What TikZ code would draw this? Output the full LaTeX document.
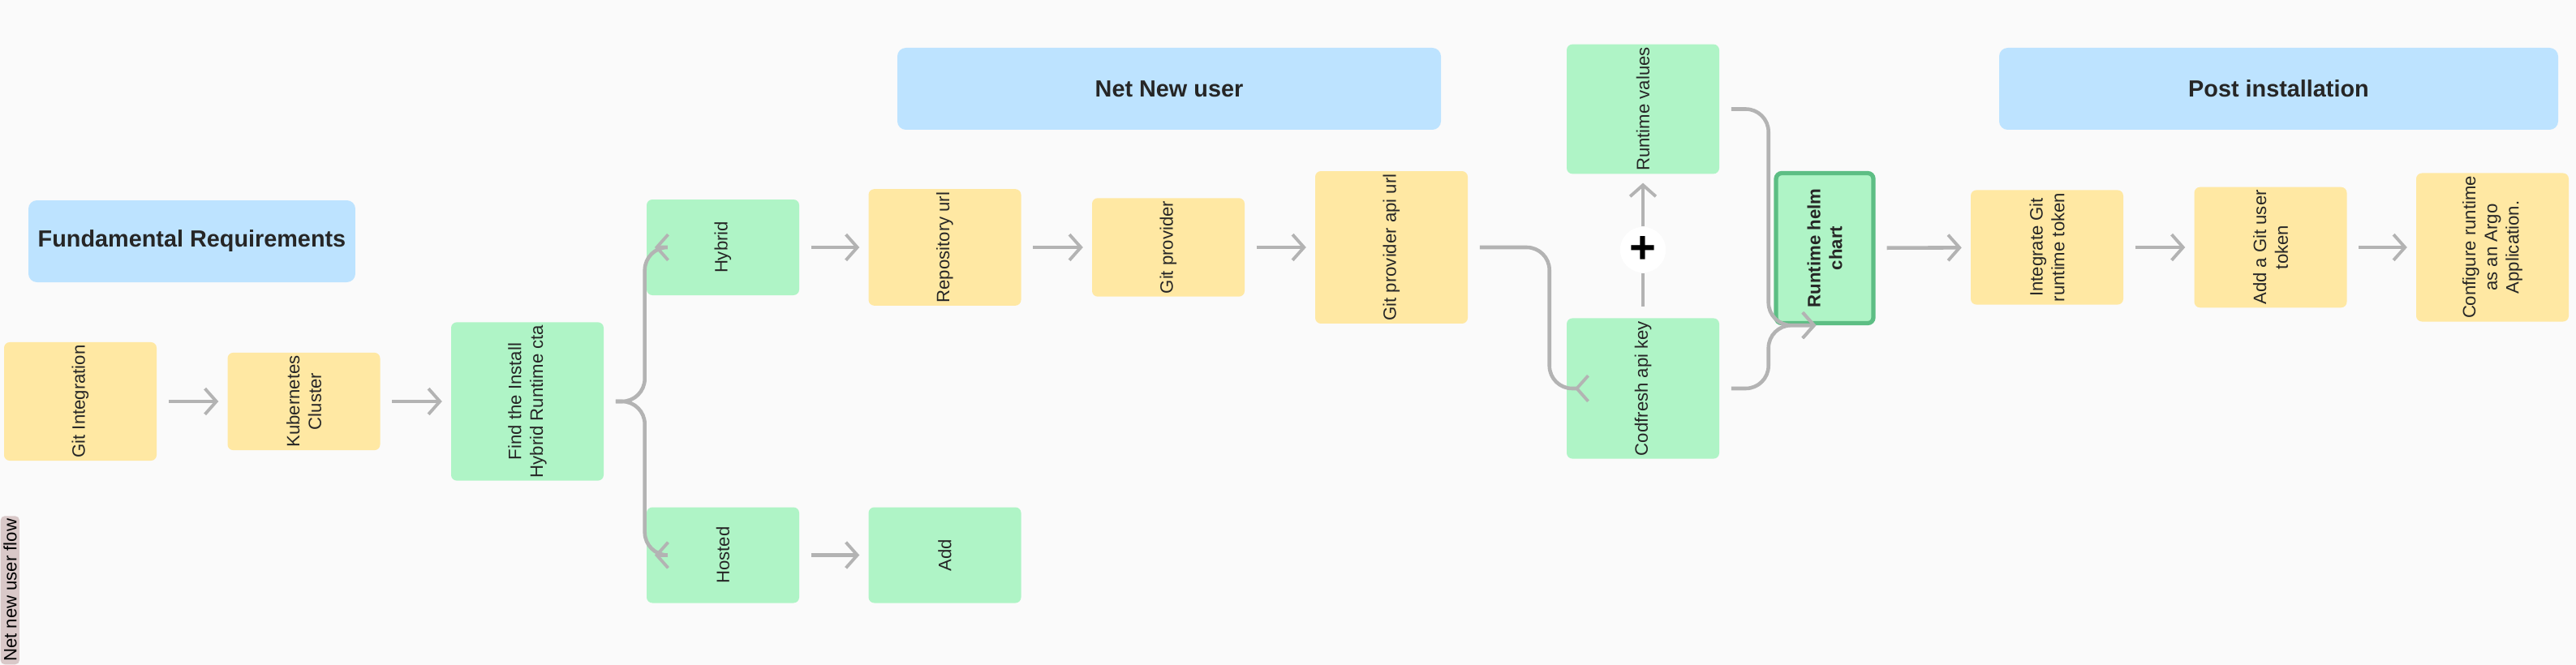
\documentclass[tikz,border=0pt]{standalone}
\usepackage{fontspec}
\setmainfont{Liberation Sans}
\usetikzlibrary{arrows.meta}
\definecolor{bgcol}{HTML}{FAFAFA}
\definecolor{ycol}{HTML}{FFE8A3}
\definecolor{gcol}{HTML}{AFF4C6}
\definecolor{bcol}{HTML}{BDE3FF}
\definecolor{gborder}{HTML}{5DBE84}
\definecolor{linecol}{HTML}{B3B3B3}
\definecolor{tagcol}{HTML}{D9C8C8}
\tikzset{
  card/.style={rounded corners=2pt, minimum width=1.18cm, minimum height=1.88cm,
    align=center, font=\fontsize{6.3}{7.6}\selectfont, text=black!85, rotate=90,
    inner sep=1pt},
  ycard/.style={card, fill=ycol},
  gcard/.style={card, fill=gcol},
  header/.style={rounded corners=3pt, fill=bcol, minimum height=1.01cm,
    font=\fontsize{8.2}{9}\selectfont\bfseries, text=black!85},
  flow/.style={draw=linecol, line width=1.3pt, rounded corners=8pt,
    -{Straight Barb[length=4pt,width=9pt,line width=1.1pt]}, shorten <=4pt, shorten >=3pt},
  link/.style={draw=linecol, line width=1.3pt, rounded corners=8pt, shorten <=4pt}
}
\begin{document}
\begin{tikzpicture}
\fill[bgcol] (0,0) rectangle (31.75,-8.2);
\useasboundingbox (0,0) rectangle (31.75,-8.2);
% headers
\node[header, minimum width=3.93cm] (fund) at (2.365,-2.975) {Fundamental Requirements};
\node[header, minimum width=6.7cm] (netnew) at (14.41,-1.095) {Net New user};
\node[header, minimum width=6.89cm] (post) at (28.085,-1.095) {Post installation};
% cards (rotated: width is the height)
\node[ycard] (git) at (0.99,-4.95) {Git Integration};
\node[ycard] (kube) at (3.745,-4.95) {Kubernetes\\Cluster};
\node[gcard] (find) at (6.5,-4.95) {Find the Install\\Hybrid Runtime cta};
\node[gcard] (hybrid) at (8.91,-3.05) {Hybrid};
\node[gcard] (hosted) at (8.91,-6.845) {Hosted};
\node[ycard] (repo) at (11.645,-3.05) {Repository url};
\node[gcard] (add) at (11.645,-6.845) {Add};
\node[ycard] (gitprov) at (14.4,-3.05) {Git provider};
\node[ycard] (apiurl) at (17.15,-3.05) {Git provider api url};
\node[gcard] (rtvals) at (20.25,-1.345) {Runtime values};
\node[gcard] (cfkey) at (20.25,-4.79) {Codfresh api key};
\node[gcard, draw=gborder, line width=1.5pt, minimum width=1.85cm, minimum height=1.2cm,
  font=\fontsize{6.3}{7.6}\selectfont\bfseries] (helm) at (22.49,-3.06) {Runtime helm\\chart};
\node[ycard] (integ) at (25.23,-3.05) {Integrate Git\\runtime token};
\node[ycard] (addtok) at (27.985,-3.05) {Add a Git user\\token};
\node[ycard] (conf) at (30.72,-3.05) {Configure runtime\\as an Argo\\Application.};
\node[circle, fill=white, inner sep=1pt, minimum size=0.5cm,
  font=\fontsize{16}{16}\selectfont\bfseries] (plus) at (20.25,-3.08) {+};
% side tag
\node[fill=tagcol, rounded corners=1.5pt, rotate=90, anchor=north west, inner sep=1pt,
  minimum height=0.2cm, minimum width=1.72cm, font=\fontsize{6.3}{7}\selectfont] (tag)
  at (0,-8.2) {Net new user flow};
% connectors
\draw[flow] (git) -- (kube);
\draw[flow] (kube) -- (find);
\draw[flow] (find.south) -- ++(0.5,0) |- (hybrid.north);
\draw[flow] (find.south) -- ++(0.5,0) |- (hosted.north);
\draw[flow] (hybrid) -- (repo);
\draw[flow] (hosted) -- (add);
\draw[flow] (repo) -- (gitprov);
\draw[flow] (gitprov) -- (apiurl);
\draw[flow] (apiurl.south) -- ++(1.0,0) |- (cfkey.north);
\draw[link] (cfkey.east) -- (plus.south);
\draw[flow, shorten <=0pt] (plus.north) -- (rtvals.west);
\draw[flow] (rtvals.south) -- ++(0.6,0) |- (helm.west);
\draw[flow] (cfkey.south) -- ++(0.6,0) |- (helm.west);
\draw[flow] (helm) -- (integ);
\draw[flow] (integ) -- (addtok);
\draw[flow] (addtok) -- (conf);
\end{tikzpicture}
\end{document}
